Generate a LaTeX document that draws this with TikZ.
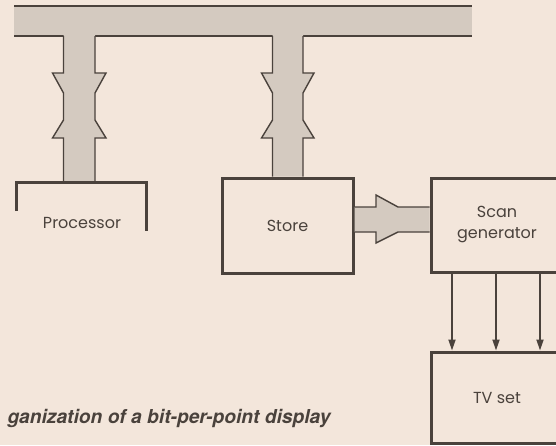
\documentclass[tikz,border=0pt]{standalone}
\usepackage{fontspec}
\setmainfont{Poppins}
\newfontfamily\capfont{TeX Gyre Heros}
\usepackage{xcolor}
\usepackage{tikz}
\usetikzlibrary{
  arrows.meta,
  positioning,
  calc,
}

\definecolor{paper}{HTML}{F3E6DB}
\definecolor{busgray}{HTML}{D4CAC0}
\definecolor{ink}{HTML}{4A423C}

\begin{document}
\begin{tikzpicture}[
  x=0.5pt, y=-0.5pt,
  font=\fontsize{8}{10.5}\selectfont,
  every node/.style={align=center, text=ink},
  block/.style={draw=ink, line width=1.5pt, inner sep=0pt},
  frame/.style={draw=ink, line width=1.5pt},
  edge/.style={draw=ink, line width=0.7pt},
  sig/.style={-{Triangle[length=5.5pt, width=3.5pt]}, draw=ink, line width=0.9pt},
]

\useasboundingbox (0,0) rectangle (556,445);
\fill[paper] (0,0) rectangle (556,445);

\node[block, minimum width=65.5pt, minimum height=47.5pt] (store) at (287.5,225.5) {Store};
\node[block, minimum width=66pt, minimum height=47pt] (scan) at (497,225) {Scan\\generator};
\node[block, minimum width=66pt, minimum height=45.5pt] (tv) at (497,397.5) {TV set};
\node (proc) at (82,223) {Processor};
\coordinate (procTop) at (79,182);

% bus and its two stems
\fill[busgray] (14,6) rectangle (472,36);
\draw[edge] (14,6) -- (472,6);
\draw[edge] (14,36) -- (63.5,36) (95,36) -- (272.5,36) (303,36) -- (472,36);

\foreach \l/\r/\to in {63.5/95/procTop, 272.5/303/store.north} {
  \fill[busgray] (\l,35) -- (\l,73) -- ({\l-11},73) -- (\l,93) -- (\l,120)
    -- ({\l-11},138) -- (\l,138) -- (\l,0 |- \to) -- (\r,0 |- \to) -- (\r,138)
    -- ({\r+11},138) -- (\r,120) -- (\r,93) -- ({\r+11},73) -- (\r,73) -- (\r,35) -- cycle;
  \draw[edge] (\l,36) -- (\l,73) -- ({\l-11},73) -- (\l,93) -- (\l,120)
    -- ({\l-11},138) -- (\l,138) -- (\l,0 |- \to);
  \draw[edge] (\r,36) -- (\r,73) -- ({\r+11},73) -- (\r,93) -- (\r,120)
    -- ({\r+11},138) -- (\r,138) -- (\r,0 |- \to);
}

\draw[frame] (16,211) |- (146,182) -- (146,231);

% wide arrow store -> scan generator
\fill[busgray] (store.east |- 0,207) -- (376,207) -- (376,195) -- (398,207)
  -- (scan.west |- 0,207) -- (scan.west |- 0,232) -- (398,232) -- (376,243)
  -- (376,232) -- (store.east |- 0,232) -- cycle;
\draw[edge] (store.east |- 0,207) -- (376,207) -- (376,195) -- (398,207) -- (scan.west |- 0,207);
\draw[edge] (store.east |- 0,232) -- (376,232) -- (376,243) -- (398,232) -- (scan.west |- 0,232);

\foreach \dx in {-22.5,-0.5,21.5}
  \draw[sig] ([xshift=\dx pt]scan.south) -- ([xshift=\dx pt]tv.north);

\node[font=\capfont\bfseries\itshape\fontsize{9.6}{11}\selectfont, anchor=base west]
  (caption) at (0.5,423) {ganization of a bit-per-point display};

\end{tikzpicture}
\end{document}
